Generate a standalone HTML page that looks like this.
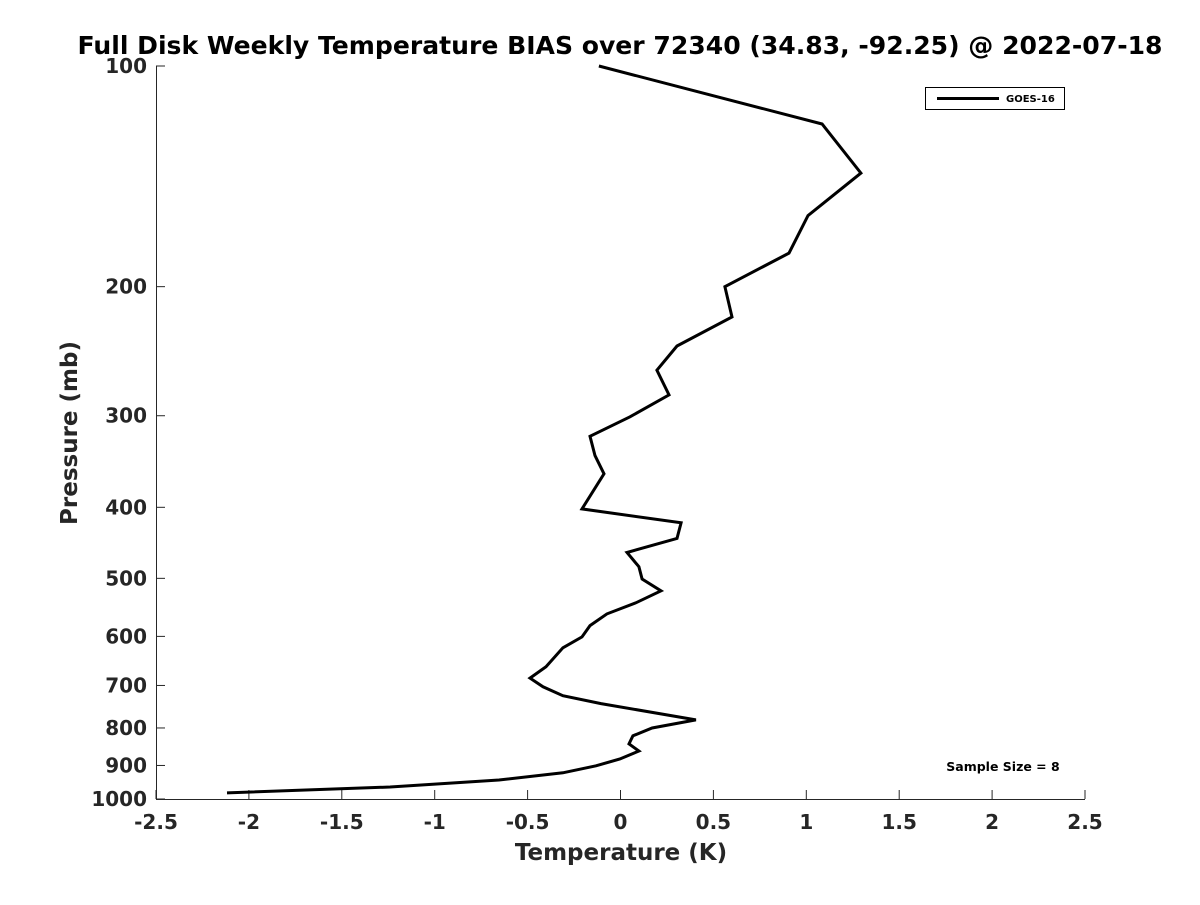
<!DOCTYPE html>
<html><head><meta charset="utf-8"><style>
body{margin:0;background:#fff;}
svg{font-family:"DejaVu Sans","Liberation Sans",sans-serif;font-weight:bold;}
</style></head><body>
<svg id="chart" width="1200" height="900">
<text x="620" y="54" text-anchor="middle" font-size="25" textLength="1085" lengthAdjust="spacingAndGlyphs" fill="#000">Full Disk Weekly Temperature BIAS over 72340 (34.83, -92.25) @ 2022-07-18</text>
<g id="axes"></g>
<path id="line" fill="none" stroke="#000" stroke-width="3"/>
<g>
<rect x="925.5" y="87.5" width="139" height="22" fill="#fff" stroke="#000" stroke-width="1"/>
<line x1="937" y1="98.5" x2="999" y2="98.5" stroke="#000" stroke-width="3"/>
<text x="1006" y="102" font-size="10" fill="#000">GOES-16</text>
</g>
<text x="1003" y="771" text-anchor="middle" font-size="12.5" fill="#000">Sample Size = 8</text>
<text x="621" y="860" text-anchor="middle" font-size="23" fill="#262626">Temperature (K)</text>
<text transform="translate(77,433) rotate(-90)" text-anchor="middle" font-size="23" fill="#262626">Pressure (mb)</text>
</svg>
<script>
const pressures=[100,120,140,160,180,200,220,241,260,281,301,320,340,360,402,420,441,461,482,501,520,540,559,580,601,622,660,684,703,723,741,780,800,820,841,860,882,901,921,942,963,981];
const temps=[-0.116,1.085,1.294,1.009,0.907,0.562,0.600,0.304,0.196,0.261,0.051,-0.164,-0.137,-0.089,-0.207,0.326,0.304,0.035,0.099,0.116,0.218,0.083,-0.073,-0.164,-0.207,-0.310,-0.401,-0.487,-0.417,-0.310,-0.105,0.406,0.170,0.067,0.046,0.099,-0.003,-0.132,-0.310,-0.654,-1.240,-2.118];
const xTicks=[-2.5,-2,-1.5,-1,-0.5,0,0.5,1,1.5,2,2.5];
const xTickLabels=["-2.5","-2","-1.5","-1","-0.5","0","0.5","1","1.5","2","2.5"];
const yTicks=[100,200,300,400,500,600,700,800,900,1000];
const L=156,R=1085,T=66,B=799;
const X=v=>L+(v+2.5)/5*(R-L);
const Y=p=>T+(Math.log10(p)-2)*(B-T);
const ns="http://www.w3.org/2000/svg";
const ax=document.getElementById('axes');
function mk(tag,attrs,txt){const e=document.createElementNS(ns,tag);for(const k in attrs)e.setAttribute(k,attrs[k]);if(txt!==undefined)e.textContent=txt;ax.appendChild(e);return e;}
let el=mk('line',{x1:L,y1:B+0.5,x2:R,y2:B+0.5,stroke:'#262626','stroke-width':1});


el=mk('line',{x1:L+0.5,y1:T,x2:L+0.5,y2:B,stroke:'#262626','stroke-width':1});


xTicks.forEach((v,i)=>{
  const x=X(v);
  mk('line',{x1:x,y1:B,x2:x,y2:B-9,stroke:'#262626'});
  el=mk('text',{x:x,y:B+30,'text-anchor':'middle','font-size':20,fill:'#262626'},xTickLabels[i]);
  
  
});
yTicks.forEach(p=>{
  const y=Y(p);
  mk('line',{x1:L,y1:y,x2:L+9,y2:y,stroke:'#262626'});
  el=mk('text',{x:L-9,y:y+7,'text-anchor':'end','font-size':20,fill:'#262626'},String(p));
  
  
});
document.getElementById('line').setAttribute('d',temps.map((t,i)=>(i?'L':'M')+X(t).toFixed(1)+','+Y(pressures[i]).toFixed(1)).join(''));
</script>
</body></html>
